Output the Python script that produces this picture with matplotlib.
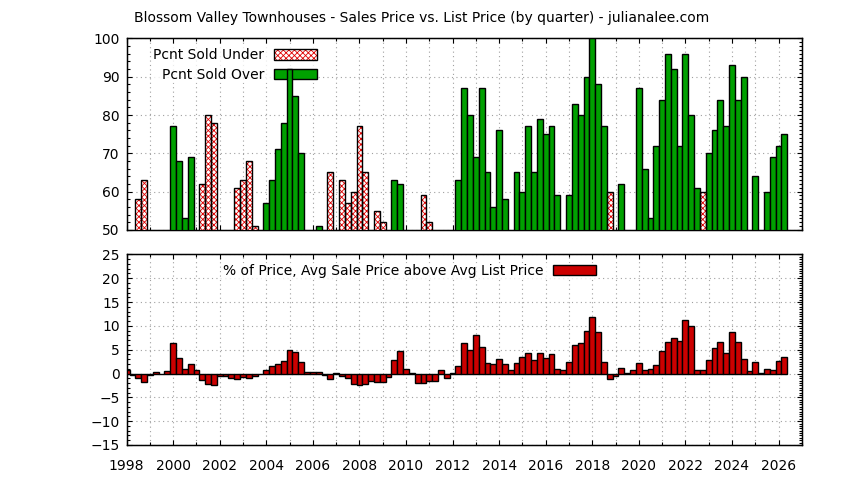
# Blossom Valley townhouses - sale price vs list price, quarterly
import numpy as np
import matplotlib.pyplot as plt
from matplotlib.patches import Patch, Rectangle
from matplotlib.legend_handler import HandlerBase
from matplotlib.ticker import MultipleLocator

plt.rcParams['font.family'] = ['DejaVu Sans']
plt.rcParams['hatch.linewidth'] = 0.6
plt.rcParams['hatch.color'] = '#e00000'

# quarters from 1998 Q1 to 2026 Q2 (bar centres)
N_Q = 114
quarters = 1998 + 0.25 * np.arange(N_Q)

# percent of sales under list price (only values above 50 are visible)
pcnt_under = [
    None, None, 58, 63, None, None, None, None,
    None, None, None, None, None, 62, 80, 78,
    None, None, None, 61, 63, 68, 51, None,
    None, None, None, None, None, None, None, None,
    None, None, None, 65, None, 63, 57, 60,
    77, 65, None, 55, 52, None, None, None,
    None, None, None, 59, 52, None, None, None,
    None, None, None, None, None, None, None, None,
    None, None, None, None, None, None, None, None,
    None, None, None, None, None, None, None, None,
    None, None, None, 60, None, None, None, None,
    None, None, None, None, None, None, None, None,
    None, None, None, 60, None, None, None, None,
    None, None, None, None, None, None, None, None,
    None, None,
]

# percent of sales over list price
pcnt_over = [
    None, None, None, None, None, None, None, None,
    77, 68, 53, 69, None, None, None, None,
    None, None, None, None, None, None, None, None,
    57, 63, 71, 78, 92, 85, 70, None,
    None, 51, None, None, None, None, None, None,
    None, None, None, None, None, None, 63, 62,
    None, None, None, None, None, None, None, None,
    None, 63, 87, 80, 69, 87, 65, 56,
    76, 58, None, 65, 60, 77, 65, 79,
    75, 77, 59, None, 59, 83, 80, 90,
    100, 88, 77, None, None, 62, None, None,
    87, 66, 53, 72, 84, 96, 92, 72,
    96, 80, 61, None, 70, 76, 84, 77,
    93, 84, 90, None, 64, None, 60, 69,
    72, 75,
]

# avg sale price above avg list price, %
pct_above = [
    0.8, -0.3, -0.9, -1.7, -0.4, 0.3, 0.0, 0.5,
    6.5, 3.3, 1.0, 1.9, 0.7, -1.4, -2.3, -2.5,
    -0.5, -0.6, -1.0, -1.25, -0.8, -1.0, -0.6, -0.2,
    0.7, 1.5, 1.9, 2.7, 5.0, 4.6, 2.5, 0.4,
    0.4, 0.4, -0.4, -1.25, 0.2, -0.6, -1.0, -2.1,
    -2.5, -2.3, -1.5, -1.7, -1.7, -0.7, 2.9, 4.8,
    1.0, 0.2, -1.9, -1.9, -1.5, -1.5, 0.8, -1.0,
    0.2, 1.5, 6.5, 5.0, 8.1, 5.6, 2.1, 1.9,
    3.1, 1.9, 0.8, 2.1, 3.5, 4.2, 2.9, 4.4,
    3.3, 4.0, 1.0, 0.8, 2.5, 6.0, 6.5, 9.0,
    11.9, 8.75, 2.5, -1.1, -0.6, 1.25, 0.2, 0.8,
    2.1, 0.8, 1.0, 1.7, 4.8, 6.7, 7.5, 6.9,
    11.25, 10.0, 0.8, 0.8, 2.9, 5.4, 6.7, 4.4,
    8.75, 6.7, 3.1, 0.6, 2.5, 0.2, 1.0, 0.8,
    2.7, 3.5,
]

under = np.array([np.nan if v is None else v for v in pcnt_under], dtype=float)
over = np.array([np.nan if v is None else v for v in pcnt_over], dtype=float)
above = np.array(pct_above, dtype=float)

GREEN = '#00a000'
RED = '#cc0000'
HATCH_RED = '#e00000'
HATCH = 'xxxxxx'
GRID = dict(color='#a0a0a0', linestyle=(0, (1, 3)), linewidth=0.8)
W = 0.25


class HatchBox(HandlerBase):
    # red crosshatch with a black outline, like gnuplot's pattern fill
    def create_artists(self, legend, orig_handle, xdescent, ydescent,
                       width, height, fontsize, trans):
        r1 = Rectangle((-xdescent, -ydescent), width, height, facecolor='white',
                       hatch=HATCH, edgecolor=HATCH_RED, linewidth=0, transform=trans)
        r2 = Rectangle((-xdescent, -ydescent), width, height, fill=False,
                       edgecolor='black', linewidth=1.0, transform=trans)
        return [r1, r2]


fig = plt.figure(figsize=(8.44, 4.8), dpi=100)
ax1 = fig.add_axes([0.150, 0.521, 0.800, 0.399])
ax2 = fig.add_axes([0.150, 0.073, 0.800, 0.397])


def style_axis(ax, ylim, ymajor, yminor_left, yminor_right):
    ax.set_xlim(1998, 2027)
    ax.set_ylim(*ylim)
    ax.xaxis.set_major_locator(MultipleLocator(2))
    ax.xaxis.set_minor_locator(MultipleLocator(1))
    ax.yaxis.set_major_locator(MultipleLocator(ymajor))
    ax.yaxis.set_minor_locator(MultipleLocator(yminor_left))
    ax.tick_params(which='both', direction='in', top=True, right=False, labelsize=10, pad=5)
    ax.tick_params(which='major', length=3.6, width=0.8)
    ax.tick_params(which='minor', length=1.9, width=0.8)
    ax.tick_params(axis='x', pad=10)
    ax.grid(True, which='major', axis='y', **GRID)
    ax.grid(True, which='both', axis='x', **GRID)
    ax.set_axisbelow(True)
    for s in ax.spines.values():
        s.set_linewidth(1.0)
    # right side ticks are denser, like the y2 axis in the original
    r = ax.twinx()
    r.set_ylim(*ylim)
    r.yaxis.set_major_locator(MultipleLocator(ymajor))
    r.yaxis.set_minor_locator(MultipleLocator(yminor_right))
    r.tick_params(which='both', direction='in', labelright=False)
    r.tick_params(which='major', length=3.6, width=0.8)
    r.tick_params(which='minor', length=1.9, width=0.8)
    return r


style_axis(ax1, (50, 100), 10, 2, 1)
style_axis(ax2, (-15, 25), 5, 1, 0.5)
ax1.tick_params(axis='x', labelbottom=False)

# top panel: hatched "under" bars + green "over" bars
ax1.bar(quarters, under, width=W, color='white', hatch=HATCH,
        edgecolor=HATCH_RED, linewidth=0, zorder=3)
ax1.bar(quarters, under, width=W, fill=False, edgecolor='black', linewidth=1.0, zorder=3.1)
ax1.bar(quarters, over, width=W, color=GREEN, edgecolor='black', linewidth=1.0, zorder=3)

h_under = Patch(facecolor='white')
h_over = Patch(facecolor=GREEN, edgecolor='black', linewidth=1.0)
leg1 = ax1.legend([h_under, h_over], ['Pcnt Sold Under', 'Pcnt Sold Over'],
                  handler_map={h_under: HatchBox()},
                  loc='upper right', bbox_to_anchor=(0.377, 0.902), bbox_transform=fig.transFigure,
                  markerfirst=False, frameon=True, fancybox=False, edgecolor='none',
                  borderpad=0.1, borderaxespad=0, handlelength=3.1, handleheight=0.75,
                  handletextpad=0.7, labelspacing=0.38, fontsize=10)
leg1.set_zorder(2.5)

# bottom panel
ax2.bar(quarters, above, width=W, color=RED, edgecolor='black', linewidth=1.0, zorder=3)
h_above = Patch(facecolor=RED, edgecolor='black', linewidth=1.0)
leg2 = ax2.legend([h_above], ['% of Price, Avg Sale Price above Avg List Price'],
                  loc='upper right', bbox_to_anchor=(0.708, 0.453), bbox_transform=fig.transFigure,
                  markerfirst=False, frameon=True, fancybox=False, edgecolor='none',
                  borderpad=0.1, borderaxespad=0, handlelength=3.1, handleheight=0.75,
                  handletextpad=0.7, fontsize=10)
leg2.set_zorder(2.5)

fig.text(0.499, 0.962, 'Blossom Valley Townhouses - Sales Price vs. List Price (by quarter) - julianalee.com',
         ha='center', va='center', fontsize=10)

plt.savefig('out.png', dpi=100)
